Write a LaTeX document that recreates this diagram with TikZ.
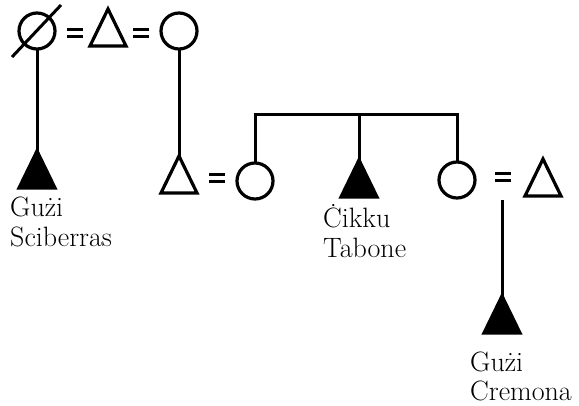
\documentclass[tikz,border=0pt]{standalone}
\usetikzlibrary{shapes.geometric}

\begin{document}
\begin{tikzpicture}[x=1pt, y=-1pt,
  man/.style={draw, isosceles triangle, shape border rotate=90, isosceles triangle stretches,
    minimum width=36pt, minimum height=37pt, inner sep=0pt, outer sep=0pt, line width=3.2pt, anchor=apex},
  woman/.style={draw, circle, minimum size=36pt, inner sep=0pt, outer sep=0pt, line width=3.2pt},
  named/.style={man, fill=black},
  kin/.style={line width=3pt},
  who/.style={anchor=base west, align=left, inner sep=0pt, font=\fontsize{28}{30}\selectfont},
  eqs/.pic={\draw[line width=3pt] (-8,-3.5) -- (8,-3.5) (-8,3.5) -- (8,3.5);}
]
\useasboundingbox (0,0) rectangle (579,406);

% first generation
\node[woman] (late) at (37,31) {};
\draw[kin] (late.center) ++(-25,26) -- ++(49,-52);
\pic at (75,33) {eqs};
\node[man] (hus) at (108,9) {};
\pic at (141,33) {eqs};
\node[woman] (wife) at (179,31) {};

\node[named] (sciberras) at (37,151) {};
\draw[kin] (late.south) -- (sciberras.apex);
\node[who] (sciberraslbl) at (10,247) {Gużi\\Sciberras};

% second generation
\node[man] (son) at (179,156) {};
\draw[kin] (wife.south) -- (son.apex);
\pic at (217,178) {eqs};
\node[woman] (swife) at (255,181) {};

\coordinate (sib) at (0,115);
\node[named] (cikku) at (359,160) {};
\node[who] (cikkulbl) at (323,258) {Ċikku\\Tabone};
\node[woman] (dau) at (457,180) {};
\pic at (503,177) {eqs};
\node[man] (dhus) at (543,159) {};
\draw[kin] (swife.north) |- (sib -| cikku.apex) -| (dau.north);
\draw[kin] (cikku.apex) -- (cikku.apex |- sib);

% third generation
\coordinate (dmar) at (502,200);
\node[named] (cremona) at (502,296) {};
\draw[kin] (dmar) -- (cremona.apex);
\node[who] (cremonalbl) at (470,401) {Gużi\\Cremona};
\end{tikzpicture}
\end{document}
